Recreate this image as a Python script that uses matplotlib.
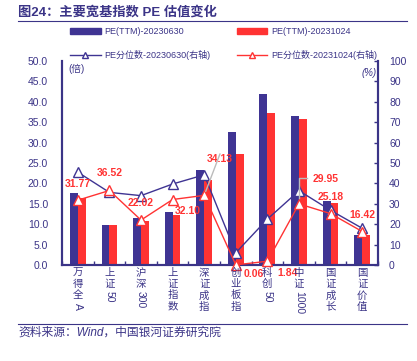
import matplotlib
matplotlib.use("Agg")
import matplotlib.pyplot as plt
from matplotlib.patches import Patch
from matplotlib.lines import Line2D
import numpy as np

plt.rcParams['font.family'] = ['Liberation Sans', 'Noto Sans CJK SC', 'DejaVu Sans']

# data
categories = ['万得全A', '上证50', '沪深300', '上证指数', '深证成指',
              '创业板指', '科创50', '中证1000', '国证成长', '国证价值']
pe_0630 = [17.6, 9.7, 11.6, 12.9, 23.3, 32.5, 42.0, 36.6, 15.8, 7.3]
pe_1024 = [16.3, 9.7, 10.9, 12.3, 20.9, 27.3, 37.3, 35.8, 15.3, 7.3]
pct_0630 = [45.5, 35.6, 34.0, 39.7, 44.2, 6.0, 22.5, 36.4, 26.8, 18.0]
pct_1024 = [31.77, 36.52, 22.02, 32.10, 34.13, 0.06, 1.84, 29.95, 25.18, 16.42]

# label offsets in points (dx, dy) for the red percentile values
label_off = [(0, 12), (0, 12.5), (0, 12), (11, -8.5), (11, 26),
             (13, -6.5), (14.5, -8.5), (19.5, 18), (0, 12), (0, 12)]

NAVY = '#3B3487'
BLUE = '#3F3493'
RED = '#FF3333'
W, H = 417, 361

fig = plt.figure(figsize=(W / 100, H / 100), dpi=100)
ax = fig.add_axes([62 / W, 1 - 265 / H, 316 / W, 204 / H])
ax2 = ax.twinx()

x = np.arange(len(categories))
bw = 0.25
ax.bar(x - bw / 2, pe_0630, bw, color=BLUE, zorder=2)
ax.bar(x + bw / 2, pe_1024, bw, color=RED, zorder=2)

ax2.plot(x, pct_0630, color=BLUE, lw=1, marker='^', ms=6.5,
         mfc='white', mec=BLUE, mew=1, clip_on=False, zorder=3)
ax2.plot(x, pct_1024, color=RED, lw=1, marker='^', ms=6.5,
         mfc='white', mec=RED, mew=1, clip_on=False, zorder=4)

for i, v in enumerate(pct_1024):
    dx, dy = label_off[i]
    ax2.annotate(f'{v:.2f}', (i, v), xytext=(dx, dy), textcoords='offset points',
                 ha='center', va='center', color=RED, fontsize=7.5,
                 fontweight='bold', annotation_clip=False, zorder=5)

# leader lines for 34.13 and 29.95
ax2.annotate('', (4, pct_1024[4]), xytext=(4.5, 54.5), textcoords='data',
             arrowprops=dict(arrowstyle='-', color='#BBBBBB', lw=1,
                             shrinkA=0, shrinkB=3), zorder=5)
ax2.plot([7, 7, 7.25], [pct_1024[7] + 3, 42.5, 42.5], color='#BBBBBB', lw=1,
         zorder=5)

ax.set_xlim(-0.5, len(categories) - 0.5)
ax.set_ylim(0, 50)
ax2.set_ylim(0, 100)
ax.set_yticks(np.arange(0, 50.1, 5))
ax.set_yticklabels([f'{v:.1f}' for v in np.arange(0, 50.1, 5)])
ax2.set_yticks(np.arange(0, 101, 10))

ax.set_xticks(np.arange(-0.5, len(categories), 1))
ax.set_xticklabels([])
ax.tick_params(axis='x', direction='in', length=3, width=1, color=NAVY)
ax.tick_params(axis='y', length=0, pad=10, labelsize=7.5, labelcolor=NAVY)
ax2.tick_params(axis='y', direction='in', length=3, width=1, color=NAVY,
                pad=8, labelsize=7.5, labelcolor=NAVY)

for a in (ax, ax2):
    a.spines['top'].set_visible(False)
    for s in ('left', 'right', 'bottom'):
        a.spines[s].set_color(NAVY)
        a.spines[s].set_linewidth(1.5)

ax.text(0.02, 0.985, '(倍)', transform=ax.transAxes, ha='left', va='top',
        fontsize=7, color=NAVY)
ax.text(0.995, 0.965, '(%)', transform=ax.transAxes, ha='right', va='top',
        fontsize=7, color=NAVY, style='italic')

# vertical category labels: CJK upright, latin runs rotated
fig.canvas.draw()
renderer = fig.canvas.get_renderer()
for i, lab in enumerate(categories):
    xp = ax.transData.transform((i, 0))[0]
    yp = H - 268
    runs = []
    for ch in lab:
        is_cjk = ord(ch) > 0x2E80
        if runs and not is_cjk and not runs[-1][1]:
            runs[-1][0] += ch
        else:
            runs.append([ch, is_cjk])
    for txt, is_cjk in runs:
        if is_cjk:
            fig.text(xp / W, yp / H, txt, ha='center', va='top', fontsize=7.5,
                     color=NAVY)
            yp -= 11.2
        else:
            t = fig.text(xp / W, (yp - 1) / H, txt, ha='center', va='top',
                         fontsize=7.5, color=NAVY, rotation=-90)
            yp -= t.get_window_extent(renderer).height + 1

# legend
handles = [Patch(color=BLUE),
           Line2D([], [], color=BLUE, lw=1, marker='^', ms=4, mfc='white', mec=BLUE),
           Patch(color=RED),
           Line2D([], [], color=RED, lw=1, marker='^', ms=4, mfc='white', mec=RED)]
labels = ['PE(TTM)-20230630', 'PE分位数-20230630(右轴)',
          'PE(TTM)-20231024', 'PE分位数-20231024(右轴)']
fig.legend(handles, labels, ncol=2, frameon=False, fontsize=6.5,
           loc='center left', bbox_to_anchor=(62 / W, 1 - 43.5 / H),
           handlelength=3.4, handleheight=0.6, handletextpad=0.4,
           columnspacing=2.9, labelspacing=1.45, labelcolor=NAVY)

# title, rules and source
fig.text(18 / W, 1 - 12 / H, '图24：主要宽基指数 PE 估值变化', ha='left', va='center',
         fontsize=9.5, fontweight='bold', color=NAVY)
fig.add_artist(Line2D([18 / W, 407 / W], [1 - 21 / H, 1 - 21 / H], color=NAVY, lw=0.8))
fig.add_artist(Line2D([18 / W, 407 / W], [1 - 324 / H, 1 - 324 / H], color=NAVY, lw=0.8))
fig.text(18 / W, 1 - 333 / H, '资料来源：Wind，中国银河证券研究院', ha='left', va='center',
         fontsize=8.5, color=NAVY, style='italic')

fig.savefig('out.png', dpi=100)
